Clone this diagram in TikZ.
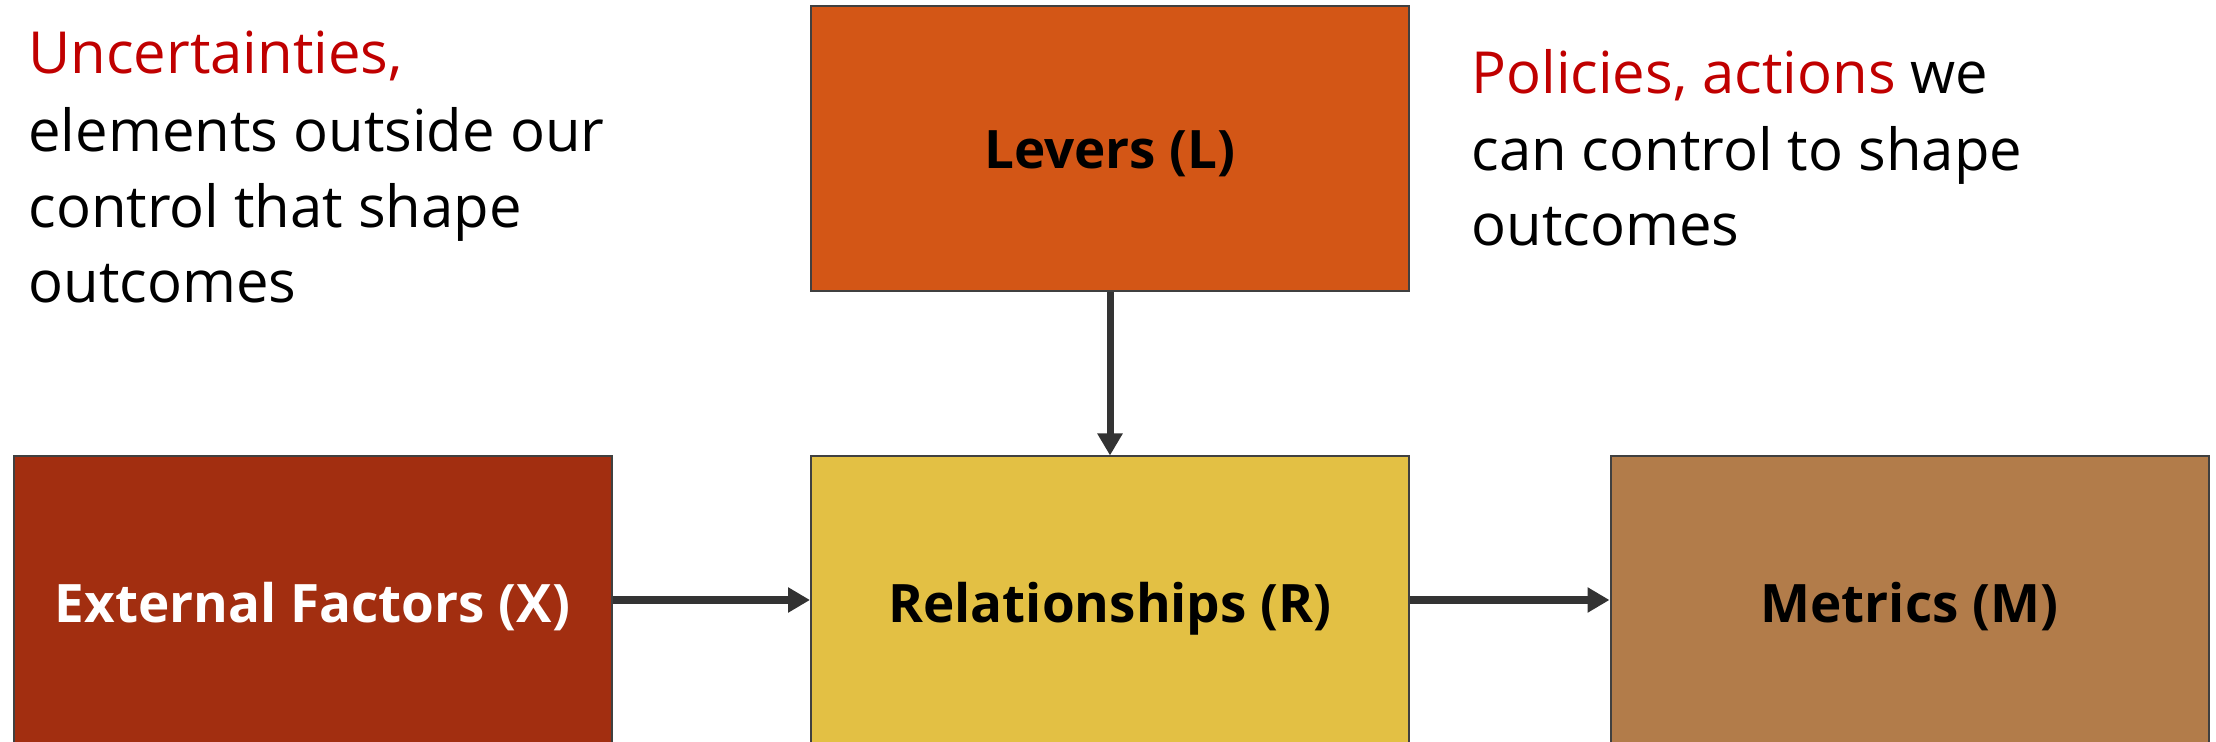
\documentclass[tikz,border=0pt]{standalone}
\usepackage{fontspec}
\setmainfont{Open Sans}
\usetikzlibrary{arrows.meta}
\definecolor{leverC}{HTML}{D35616}
\definecolor{extC}{HTML}{A22E10}
\definecolor{relC}{HTML}{E3C044}
\definecolor{metC}{HTML}{B27C4A}
\definecolor{edgeC}{HTML}{404040}
\definecolor{arrC}{HTML}{333333}
\definecolor{redT}{HTML}{C00000}
\tikzset{
  box/.style={draw=edgeC, line width=1pt, minimum width=299pt, minimum height=142.5pt,
    inner sep=0pt, text height=26pt, text depth=5.5pt,
    font=\fontsize{26.5}{32}\selectfont\bfseries},
  note/.style={anchor=base west, inner sep=0pt, font=\fontsize{29}{35}\selectfont},
  conn/.style={draw=arrC, line width=3.5pt, -{Triangle[length=11pt,width=12pt]}},
}
\begin{document}
\begin{tikzpicture}[x=0.5pt,y=-0.5pt]
\useasboundingbox (0,0) rectangle (2216,742);
\node[box, fill=leverC] (L) at (1110,148.5) {Levers (L)};
\node[box, fill=extC, text=white, minimum height=145pt] (X) at (312.5,601.5) {External Factors (X)};
\node[box, fill=relC, minimum height=145pt] (R) at (1110,601.5) {Relationships (R)};
\node[box, fill=metC, minimum height=145pt] (M) at (1909.5,601.5) {Metrics (M)};
\draw[conn] (L.south) -- (L.south |- R.north);
\draw[conn] (X.east |- 0,600) -- (R.west |- 0,600);
\draw[conn] (R.east |- 0,600) -- (M.west |- 0,600);
\node[note, text=redT] (u1) at (28,74) {Uncertainties,};
\node[note] (u2) at (28,152) {elements outside our};
\node[note] (u3) at (28,228) {control that shape};
\node[note] (u4) at (28,303) {outcomes};
\node[note] (p1) at (1471,94) {\textcolor{redT}{Policies, actions} we};
\node[note] (p2) at (1471,171) {can control to shape};
\node[note] (p3) at (1471,246) {outcomes};
\end{tikzpicture}
\end{document}
